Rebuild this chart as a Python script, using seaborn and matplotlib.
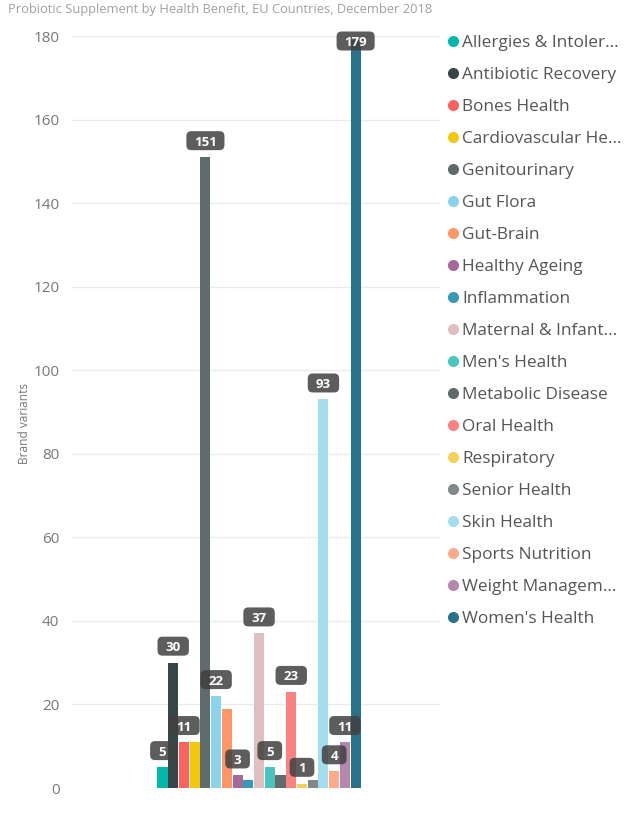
import matplotlib
matplotlib.use("Agg")
import matplotlib.pyplot as plt
from matplotlib.lines import Line2D
from matplotlib.patches import FancyBboxPatch
from matplotlib.transforms import ScaledTranslation
import seaborn as sns
import pandas as pd

categories = ["Allergies & Intolerances", "Antibiotic Recovery", "Bones Health",
              "Cardiovascular Health", "Genitourinary", "Gut Flora", "Gut-Brain",
              "Healthy Ageing", "Inflammation", "Maternal & Infant Health",
              "Men's Health", "Metabolic Disease", "Oral Health", "Respiratory",
              "Senior Health", "Skin Health", "Sports Nutrition",
              "Weight Management", "Women's Health"]
legend_labels = ["Allergies & Intoler...", "Antibiotic Recovery", "Bones Health",
                 "Cardiovascular He...", "Genitourinary", "Gut Flora", "Gut-Brain",
                 "Healthy Ageing", "Inflammation", "Maternal & Infant...",
                 "Men's Health", "Metabolic Disease", "Oral Health", "Respiratory",
                 "Senior Health", "Skin Health", "Sports Nutrition",
                 "Weight Managem...", "Women's Health"]
values = [5, 30, 11, 11, 151, 22, 19, 3, 2, 37, 5, 3, 23, 1, 2, 93, 4, 11, 179]
show_label = [True, True, True, False, True, True, False, True, False, True,
              True, False, True, True, False, True, True, True, True]
colors = ["#01B8AA", "#374649", "#FD625E", "#F2C80F", "#5F6B6D", "#8AD4EB",
          "#FE9666", "#A66999", "#3599B8", "#DFBFBF", "#4AC5BB", "#5F6B6D",
          "#FB8281", "#F4D25A", "#7F898A", "#A4DDEE", "#FDAB89", "#B687AC",
          "#28738A"]
yticks = [0, 20, 40, 60, 80, 100, 120, 140, 160, 180]
title = "Probiotic Supplement by Health Benefit, EU Countries, December 2018"
ylabel = "Brand variants"

sns.set_theme(style="white")
plt.rcParams["font.family"] = ["Open Sans", "DejaVu Sans"]

df = pd.DataFrame({"group": ["All"] * len(categories),
                   "category": categories, "value": values})

W, H = 637, 814
fig = plt.figure(figsize=(W / 100, H / 100), dpi=100)
ax = fig.add_axes([72 / W, 1 - 788 / H, (440 - 72) / W, (788 - 36) / H])

sns.barplot(data=df, x="group", y="value", hue="category", hue_order=categories,
            palette=dict(zip(categories, colors)), dodge=True, gap=0.06,
            saturation=1, legend=False, ax=ax, errorbar=None, linewidth=0)

ax.set_ylim(0, 180)
ax.set_xlim(-0.734, 0.710)
ax.set_yticks(yticks)
ax.set_yticklabels([str(t) for t in yticks])
ax.yaxis.grid(True, color="#ebebeb", linewidth=1)
ax.set_axisbelow(True)
for s in ax.spines.values():
    s.set_visible(False)
ax.tick_params(axis="y", length=0, pad=9, labelsize=11, labelcolor="#777777")
ax.set_xticks([])
ax.set_xlabel("")
ax.set_ylabel(ylabel, fontsize=8.6, color="#777777")
ax.yaxis.set_label_coords(-0.112, 0.485)

# data labels (rounded dark boxes above the bars)
px_per_unit = (788 - 36) / 180.0
off_units = 16.5 / px_per_unit
top_limit = 180 - 5 / px_per_unit
for i, cont in enumerate(ax.containers):
    if not show_label[i]:
        continue
    bar = cont[0]
    xc = bar.get_x() + bar.get_width() / 2
    v = values[i]
    y = min(v + off_units, top_limit)
    txt = str(v)
    bw = (18 + 6.7 * len(txt)) / 100.0
    bh = 19 / 100.0
    tr = fig.dpi_scale_trans + ScaledTranslation(xc, y, ax.transData)
    box = FancyBboxPatch((-bw / 2, -bh / 2), bw, bh,
                         boxstyle="round,pad=0,rounding_size=0.05",
                         transform=tr, fc="#404040", ec="none", alpha=0.85,
                         zorder=5, clip_on=False)
    ax.add_patch(box)
    ax.text(xc, y, txt, ha="center", va="center_baseline", fontsize=9.5,
            fontweight="bold", color="white", zorder=6)

fig.text(8 / W, 1 - 10 / H, title, fontsize=9.3, color="#a0a0a0",
         ha="left", va="center")

handles = [Line2D([0], [0], marker="o", linestyle="none", markersize=8,
                  markerfacecolor=c, markeredgecolor="none") for c in colors]
leg = fig.legend(handles, legend_labels, loc="upper left",
                 bbox_to_anchor=(444 / W, 1 - 34.5 / H), frameon=False,
                 fontsize=12.4, labelcolor="#555555", handletextpad=0.05,
                 handlelength=1.0, labelspacing=0.926, borderaxespad=0,
                 borderpad=0)

fig.savefig("out.png", dpi=100)
